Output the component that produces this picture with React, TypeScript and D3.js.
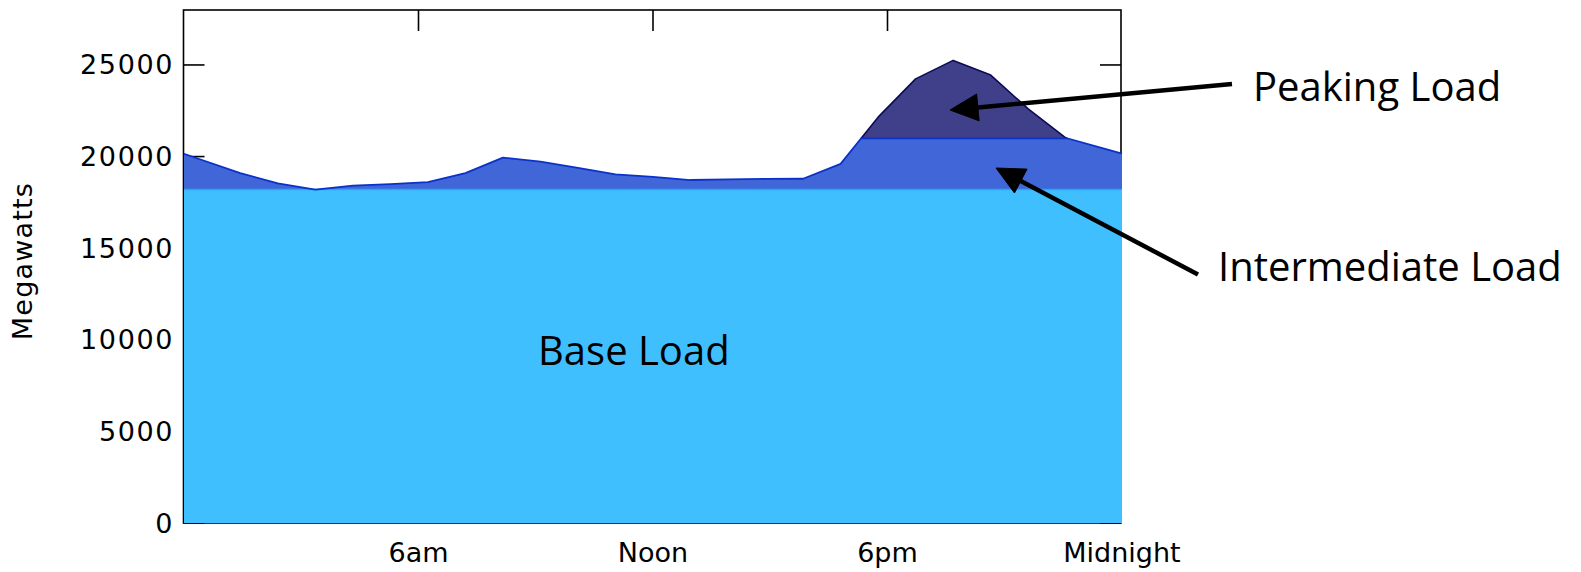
import React from "react";
import * as d3 from "d3";

const W = 1581;
const H = 572;

// Plot frame in page pixels
const FRAME = { left: 183.5, right: 1121, top: 10, bottom: 523 };

// Position of each load sample along the day axis (0–25 axis units; samples sit
// mid-slot, the first and last entries pin the curve to the frame edges)
const samplePos = [
  0, 0.5, 1.5, 2.5, 3.5, 4.5, 5.5, 6.5, 7.5, 8.5, 9.5, 10.5, 11.5, 12.5, 13.5,
  14.5, 15.5, 16.5, 17.5, 18.5, 19.5, 20.5, 21.5, 22.5, 23.5, 24.5, 25,
];

// Total system load, megawatts
const loadMW = [
  20150, 19800, 19100, 18540, 18200, 18410, 18500, 18600, 19100, 19940, 19720,
  19380, 19030, 18890, 18720, 18750, 18780, 18790, 19600, 22150, 24240, 25250,
  24450, 22600, 21020, 20450, 20160,
];

// Dispatch tiers
const baseLoadMW = 18200;
const intermediateCapMW = 21000;

const yTicks = [0, 5000, 10000, 15000, 20000, 25000];
const xTickPos = [6.25, 12.5, 18.75, 25];
const xTickLabels = ["6am", "Noon", "6pm", "Midnight"];

const COLORS = {
  base: "#40bfff",
  baseEdge: "#2aa4f5",
  intermediate: "#4166d8",
  intermediateEdge: "#0a32c8",
  peaking: "#40408a",
  peakingEdge: "#0a0a55",
};

type Pt = { x: number; v: number };

// Insert the exact points where the load line crosses each tier level so the
// clipped bands meet cleanly.
function withCrossings(pts: Pt[], levels: number[]): Pt[] {
  const out: Pt[] = [];
  for (let i = 0; i < pts.length; i++) {
    const a = pts[i];
    out.push(a);
    if (i === pts.length - 1) break;
    const b = pts[i + 1];
    const cross: Pt[] = [];
    for (const L of levels) {
      if ((a.v - L) * (b.v - L) < 0) {
        const t = (L - a.v) / (b.v - a.v);
        cross.push({ x: a.x + t * (b.x - a.x), v: L });
      }
    }
    cross.sort((p, q) => p.x - q.x);
    out.push(...cross);
  }
  return out;
}

function arrowGeom(tail: [number, number], tip: [number, number], len: number, half: number) {
  const dx = tail[0] - tip[0];
  const dy = tail[1] - tip[1];
  const d = Math.hypot(dx, dy);
  const ux = dx / d;
  const uy = dy / d;
  const bx = tip[0] + ux * len;
  const by = tip[1] + uy * len;
  const px = -uy * half;
  const py = ux * half;
  return {
    line: [bx, by, tail[0], tail[1]],
    head: `${tip[0]},${tip[1]} ${bx + px},${by + py} ${bx - px},${by - py}`,
  };
}

export default function App() {
  const x = d3.scaleLinear().domain([0, 25]).range([184, 1122]);
  const y = d3.scaleLinear().domain([0, 28000]).range([FRAME.bottom, FRAME.top]);

  const pts = withCrossings(
    samplePos.map((p, i) => ({ x: p, v: loadMW[i] })),
    [baseLoadMW, intermediateCapMW]
  );

  const interTop = (p: Pt) => Math.max(baseLoadMW, Math.min(p.v, intermediateCapMW));

  const interArea = d3
    .area<Pt>()
    .x((p) => x(p.x))
    .y0(y(baseLoadMW))
    .y1((p) => y(interTop(p)));
  const interLine = d3
    .line<Pt>()
    .x((p) => x(p.x))
    .y((p) => y(interTop(p)));

  const peakPts = pts.filter((p) => p.v >= intermediateCapMW);
  const peakArea = d3
    .area<Pt>()
    .x((p) => x(p.x))
    .y0(y(intermediateCapMW))
    .y1((p) => y(p.v));
  const peakLine = d3
    .line<Pt>()
    .x((p) => x(p.x))
    .y((p) => y(p.v));

  const tickLen = 21;
  const axisFont = "'DejaVu Sans', Verdana, sans-serif";
  const noteFont = "'Open Sans', 'Noto Sans', sans-serif";

  const peakArrow = arrowGeom([1232, 84], [950, 110], 28, 13.5);
  const interArrow = arrowGeom([1198, 274.5], [996, 168], 28, 13.5);

  // inner ticks along top/bottom, skipping the one that sits on the right frame edge
  const innerXTicks = xTickPos.filter((t) => t < 25);

  return (
    <svg
      width={W}
      height={H}
      viewBox={`0 0 ${W} ${H}`}
      style={{ position: "absolute", left: 0, top: 0, background: "#fff" }}
    >
      {/* frame and inward ticks */}
      <g stroke="#000" strokeWidth={1.6} fill="none">
        <rect
          x={FRAME.left}
          y={FRAME.top}
          width={FRAME.right - FRAME.left}
          height={FRAME.bottom - FRAME.top}
        />
        {yTicks.map((t) => (
          <g key={`yt${t}`}>
            <line x1={FRAME.left} x2={FRAME.left + tickLen} y1={y(t)} y2={y(t)} />
            <line x1={FRAME.right - tickLen} x2={FRAME.right} y1={y(t)} y2={y(t)} />
          </g>
        ))}
        {innerXTicks.map((t) => (
          <g key={`xt${t}`}>
            <line x1={x(t)} x2={x(t)} y1={FRAME.top} y2={FRAME.top + tickLen} />
            <line x1={x(t)} x2={x(t)} y1={FRAME.bottom} y2={FRAME.bottom - tickLen} />
          </g>
        ))}
      </g>

      {/* base load band */}
      <rect
        x={x(0)}
        y={y(baseLoadMW)}
        width={x(25) - x(0)}
        height={y(0) - y(baseLoadMW)}
        fill={COLORS.base}
      />

      {/* intermediate band */}
      <path d={interArea(pts) ?? ""} fill={COLORS.intermediate} />
      <line
        x1={x(0)}
        x2={x(25)}
        y1={y(baseLoadMW)}
        y2={y(baseLoadMW)}
        stroke={COLORS.baseEdge}
        strokeWidth={1.5}
      />
      <path
        d={interLine(pts) ?? ""}
        fill="none"
        stroke={COLORS.intermediateEdge}
        strokeWidth={1.8}
        strokeLinejoin="round"
      />

      {/* peaking band */}
      <path d={peakArea(peakPts) ?? ""} fill={COLORS.peaking} />
      <path
        d={peakLine(peakPts) ?? ""}
        fill="none"
        stroke={COLORS.peakingEdge}
        strokeWidth={1.6}
        strokeLinejoin="round"
      />
      <line
        x1={x(peakPts[0].x)}
        x2={x(peakPts[peakPts.length - 1].x)}
        y1={y(intermediateCapMW)}
        y2={y(intermediateCapMW)}
        stroke={COLORS.intermediateEdge}
        strokeWidth={1.6}
      />

      {/* y tick labels */}
      <g fontFamily={axisFont} fontSize={27} fill="#000" style={{ letterSpacing: "1.6px" }}>
        {yTicks.map((t) => (
          <text key={`yl${t}`} x={174} y={y(t)} textAnchor="end" dominantBaseline="central">
            {t}
          </text>
        ))}
      </g>

      {/* x tick labels */}
      <g fontFamily={axisFont} fontSize={27} fill="#000">
        {xTickPos.map((t, i) => (
          <text key={`xl${t}`} x={x(t)} y={562} textAnchor="middle">
            {xTickLabels[i]}
          </text>
        ))}
      </g>

      {/* y axis title */}
      <text
        transform="translate(32,261) rotate(-90)"
        textAnchor="middle"
        fontFamily={axisFont}
        fontSize={27}
        style={{ letterSpacing: "1.2px" }}
      >
        Megawatts
      </text>

      {/* annotations */}
      <g fontFamily={noteFont} fontSize={40} fill="#000">
        <text x={538} y={365}>Base Load</text>
        <text x={1253} y={101}>Peaking Load</text>
        <text x={1218} y={281}>Intermediate Load</text>
      </g>

      <g stroke="#000" strokeWidth={4.5} fill="#000">
        <line
          x1={peakArrow.line[0]}
          y1={peakArrow.line[1]}
          x2={peakArrow.line[2]}
          y2={peakArrow.line[3]}
        />
        <polygon points={peakArrow.head} strokeWidth={1} />
        <line
          x1={interArrow.line[0]}
          y1={interArrow.line[1]}
          x2={interArrow.line[2]}
          y2={interArrow.line[3]}
        />
        <polygon points={interArrow.head} strokeWidth={1} />
      </g>
    </svg>
  );
}
